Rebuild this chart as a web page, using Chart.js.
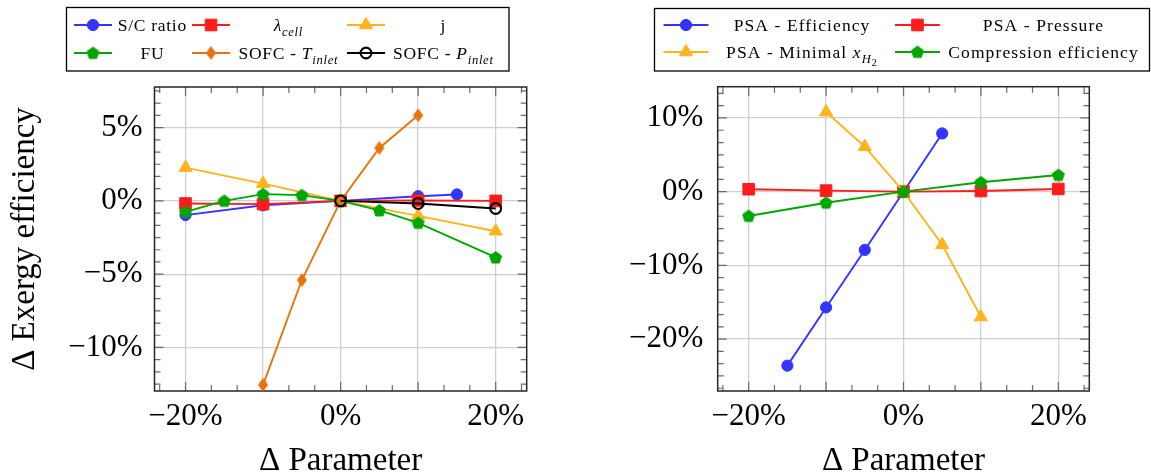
<!DOCTYPE html>
<html>
<head>
<meta charset="utf-8">
<script src="https://cdn.jsdelivr.net/npm/chart.js@4.4.1/dist/chart.umd.min.js"></script>
<style>
  html, body { margin: 0; padding: 0; background: #fff; width: 1151px; height: 476px; overflow: hidden; }
  #wrap { position: relative; width: 1151px; height: 476px; }
  #wrap canvas { position: absolute; top: 0; }
</style>
</head>
<body>
<div id="wrap">
  <canvas id="left" width="575" height="476" style="left:0px;width:575px;height:476px"></canvas>
  <canvas id="right" width="576" height="476" style="left:575px;width:576px;height:476px"></canvas>
</div>
<script>
// ---------- Left panel: SOFC parameters (x: Δ parameter in %, y: Δ exergy efficiency in %) ----------
const SC_X = [-20, -10, 0, 10, 15];
const SC_Y = [-0.97, -0.3, 0, 0.32, 0.44];
const LAMBDA_X = [-20, -10, 0, 10, 20];
const LAMBDA_Y = [-0.18, -0.22, 0, 0.03, 0];
const J_X = [-20, -10, 0, 10, 20];
const J_Y = [2.27, 1.18, 0, -1.02, -2.07];
const FU_X = [-20, -15, -10, -5, 0, 5, 10, 20];
const FU_Y = [-0.75, 0, 0.46, 0.39, 0, -0.65, -1.5, -3.86];
const TIN_X = [-10, -5, 0, 5, 10];
const TIN_Y = [-12.55, -5.4, 0, 3.61, 5.84];
const PIN_X = [0, 10, 20];
const PIN_Y = [0, -0.18, -0.52];

// ---------- Right panel: PSA and compression parameters ----------
const PSAEFF_X = [-15, -10, -5, 0, 5];
const PSAEFF_Y = [-23.6, -15.7, -7.9, 0, 7.9];
const PSAP_X = [-20, -10, 0, 10, 20];
const PSAP_Y = [0.33, 0.14, 0, 0.09, 0.37];
const XH2_X = [-10, -5, 0, 5, 10];
const XH2_Y = [10.8, 6.1, 0, -7.2, -17.0];
const COMP_X = [-20, -10, 0, 10, 20];
const COMP_Y = [-3.3, -1.5, 0, 1.27, 2.26];

// ---------- Ticks ----------
const X_TICKS = [-20, -10, 0, 10, 20];
const X_TICK_LABELS = ['\u221220%', '', '0%', '', '20%'];
const LEFT_Y_TICKS = [-10, -5, 0, 5];
const LEFT_Y_TICK_LABELS = ['\u221210%', '\u22125%', '0%', '5%'];
const RIGHT_Y_TICKS = [-20, -10, 0, 10];
const RIGHT_Y_TICK_LABELS = ['\u221220%', '\u221210%', '0%', '10%'];

// ---------- Series names (runs of text; it = italic, sub = subscript level) ----------
const LEFT_NAMES = [
  [{ t: 'S/C ratio' }],
  [{ t: 'λ', it: 1 }, { t: 'cell', it: 1, sub: 1 }],
  [{ t: 'j' }],
  [{ t: 'FU' }],
  [{ t: 'SOFC - ' }, { t: 'T', it: 1 }, { t: 'inlet', it: 1, sub: 1 }],
  [{ t: 'SOFC - ' }, { t: 'P', it: 1 }, { t: 'inlet', it: 1, sub: 1 }]
];
const RIGHT_NAMES = [
  [{ t: 'PSA - Efficiency' }],
  [{ t: 'PSA - Pressure' }],
  [{ t: 'PSA - Minimal ' }, { t: 'x', it: 1 }, { t: 'H', it: 1, sub: 1 }, { t: '2', sub: 2 }],
  [{ t: 'Compression efficiency' }]
];

const COL = { blue: '#3434ff', red: '#ff1c1c', yellow: '#ffb41e', green: '#00a600', orange: '#e6730b', black: '#000000' };
const SERIF = '"Liberation Serif", "DejaVu Serif", serif';

// Custom marker shapes (pentagon, tall diamond) rendered once into small canvases
function shapeCanvas(w, h, color, pts) {
  const c = document.createElement('canvas');
  c.width = w; c.height = h;
  const g = c.getContext('2d');
  g.beginPath();
  pts.forEach(([px, py], i) => i ? g.lineTo(px, py) : g.moveTo(px, py));
  g.closePath();
  g.fillStyle = color; g.strokeStyle = color; g.lineWidth = 1;
  g.fill(); g.stroke();
  return c;
}
function pentagon(color, r) {
  const s = Math.ceil(2 * r + 4), c0 = s / 2, pts = [];
  for (let i = 0; i < 5; i++) {
    const t = -Math.PI / 2 + i * 2 * Math.PI / 5;
    pts.push([c0 + r * Math.cos(t), c0 + 0.4 + r * Math.sin(t)]);
  }
  return shapeCanvas(s, s, color, pts);
}
function diamond(color, hw, hh) {
  const w = Math.ceil(2 * hw + 4), h = Math.ceil(2 * hh + 4), cx = w / 2, cy = h / 2;
  return shapeCanvas(w, h, color, [[cx, cy - hh], [cx + hw, cy], [cx, cy + hh], [cx - hw, cy]]);
}

const MARK = {
  circle:   c => ({ pointStyle: 'circle', pointRadius: 5.6, pointBorderWidth: 1, pointBackgroundColor: c }),
  square:   c => ({ pointStyle: 'rect', pointRadius: 8.2, pointBorderWidth: 1, pointBackgroundColor: c }),
  triangle: c => ({ pointStyle: 'triangle', pointRadius: 7.6, pointBorderWidth: 1, pointBackgroundColor: c }),
  pentagon: c => ({ pointStyle: pentagon(c, 6.3), pointRadius: 6 }),
  diamond:  c => ({ pointStyle: diamond(c, 4.6, 6.3), pointRadius: 6 }),
  ocircle:  c => ({ pointStyle: 'circle', pointRadius: 5.4, pointBorderWidth: 2.1, pointBackgroundColor: 'rgba(0,0,0,0)' })
};

function series(xs, ys, color, mark, idx) {
  return Object.assign({
    data: xs.map((x, i) => ({ x: x, y: ys[i] })),
    borderColor: color,
    pointBorderColor: color,
    borderWidth: 1.9,
    tension: 0,
    fill: false,
    order: -idx
  }, MARK[mark](color));
}

// Frame with inward major/minor ticks on all four sides
const axisFrame = {
  id: 'axisFrame',
  beforeDatasetsDraw(chart, _args, o) {
    const { ctx, chartArea: a } = chart;
    const xs = chart.scales.x, ys = chart.scales.y;
    ctx.save();
    ctx.strokeStyle = '#6a6a6a';
    ctx.lineWidth = 1.2;
    ctx.beginPath();
    const kx0 = Math.ceil(xs.min / o.xStep - 1e-9), kx1 = Math.floor(xs.max / o.xStep + 1e-9);
    for (let k = kx0; k <= kx1; k++) {
      const p = xs.getPixelForValue(k * o.xStep);
      const len = (k % o.xMajor === 0) ? 9 : 6;
      ctx.moveTo(p, a.bottom); ctx.lineTo(p, a.bottom - len);
      ctx.moveTo(p, a.top); ctx.lineTo(p, a.top + len);
    }
    const ky0 = Math.ceil(ys.min / o.yStep - 1e-9), ky1 = Math.floor(ys.max / o.yStep + 1e-9);
    for (let k = ky0; k <= ky1; k++) {
      const p = ys.getPixelForValue(k * o.yStep);
      const len = (k % o.yMajor === 0) ? 9 : 6;
      ctx.moveTo(a.left, p); ctx.lineTo(a.left + len, p);
      ctx.moveTo(a.right, p); ctx.lineTo(a.right - len, p);
    }
    ctx.stroke();
    ctx.strokeStyle = '#262626';
    ctx.lineWidth = 1.5;
    ctx.strokeRect(a.left, a.top, a.right - a.left, a.bottom - a.top);
    ctx.restore();
  }
};

// Rich text run drawing (italic / subscripts), centred on (cx, cy)
function drawRich(ctx, runs, cx, cy, size, spacing) {
  const parts = runs.map(r => {
    const lvl = r.sub || 0;
    const fs = lvl === 0 ? size : (lvl === 1 ? size * 0.72 : size * 0.58);
    const font = (r.it ? 'italic ' : '') + fs.toFixed(2) + 'px ' + SERIF;
    ctx.font = font;
    ctx.letterSpacing = spacing + 'px';
    const w = ctx.measureText(r.t).width;
    const dy = lvl === 0 ? 0 : (lvl === 1 ? 0.3 * size : 0.48 * size);
    return { font, w, dy, t: r.t };
  });
  const total = parts.reduce((s, p) => s + p.w, 0) - spacing;
  let x = cx - total / 2;
  const base = cy + 0.33 * size;
  ctx.textAlign = 'left';
  ctx.textBaseline = 'alphabetic';
  parts.forEach(p => {
    ctx.font = p.font;
    ctx.letterSpacing = spacing + 'px';
    ctx.fillText(p.t, x, base + p.dy);
    x += p.w;
  });
  ctx.letterSpacing = '0px';
}

// Boxed legend: rows x columns of (line + marker, centred name)
const boxLegend = {
  id: 'boxLegend',
  afterDraw(chart, _args, o) {
    const ctx = chart.ctx;
    const [bx, by, bw, bh] = o.box;
    ctx.save();
    ctx.fillStyle = '#fff';
    ctx.fillRect(bx, by, bw, bh);
    ctx.strokeStyle = '#000';
    ctx.lineWidth = 1.3;
    ctx.strokeRect(bx, by, bw, bh);
    chart.data.datasets.forEach((ds, i) => {
      const col = i % o.cols, row = Math.floor(i / o.cols);
      const cy = o.rows[row], mc = o.markC[col];
      ctx.strokeStyle = ds.borderColor;
      ctx.lineWidth = ds.borderWidth;
      ctx.beginPath();
      ctx.moveTo(mc - o.markW / 2, cy); ctx.lineTo(mc + o.markW / 2, cy);
      ctx.stroke();
      ctx.fillStyle = ds.pointBackgroundColor || ds.borderColor;
      ctx.strokeStyle = ds.pointBorderColor;
      ctx.lineWidth = ds.pointBorderWidth || 1;
      Chart.helpers.drawPoint(ctx, { pointStyle: ds.pointStyle, radius: ds.pointRadius, borderWidth: ds.pointBorderWidth || 0, rotation: 0 }, mc, cy);
      ctx.fillStyle = '#000';
      drawRich(ctx, o.names[i], o.textC[col], cy, o.size, o.spacing);
    });
    ctx.restore();
  }
};

const TICK_FONT = { family: SERIF, size: 31 };
const TITLE_FONT = { family: SERIF, size: 33, lineHeight: 1 };

function makeChart(id, datasets, cfg) {
  return new Chart(document.getElementById(id), {
    type: 'line',
    data: { datasets: datasets },
    plugins: [axisFrame, boxLegend],
    options: {
      responsive: false,
      devicePixelRatio: 1,
      animation: false,
      events: [],
      layout: { padding: { top: cfg.top, right: cfg.right, left: 0, bottom: 0 } },
      plugins: {
        legend: { display: false },
        tooltip: { enabled: false },
        axisFrame: { xStep: 10 / 3, xMajor: 3, yStep: cfg.yStep, yMajor: 6 },
        boxLegend: cfg.legend
      },
      scales: {
        x: {
          type: 'linear',
          min: -24, max: 24,
          afterBuildTicks: s => { s.ticks = X_TICKS.map(v => ({ value: v })); },
          afterFit: s => { s.height = 476 - cfg.bottom; },
          ticks: {
            autoSkip: false, maxRotation: 0, padding: 7, color: '#000', font: TICK_FONT,
            callback: (v, i) => X_TICK_LABELS[i]
          },
          grid: { color: '#cfcfcf', lineWidth: 1.3, drawTicks: false },
          border: { display: false },
          title: { display: true, text: 'Δ Parameter', color: '#000', font: TITLE_FONT, padding: { top: 0, bottom: -1.5 } }
        },
        y: {
          type: 'linear',
          min: cfg.yMin, max: cfg.yMax,
          afterBuildTicks: s => { s.ticks = cfg.yTicks.map(v => ({ value: v })); },
          afterFit: s => { s.width = cfg.left; },
          ticks: {
            autoSkip: false, padding: cfg.yPad, color: '#000', font: TICK_FONT,
            callback: (v, i) => cfg.yLabels[i]
          },
          grid: { color: '#cfcfcf', lineWidth: 1.3, drawTicks: false },
          border: { display: false },
          title: cfg.yTitle
            ? { display: true, text: cfg.yTitle, color: '#000', font: TITLE_FONT, padding: { top: 8.5, bottom: 0 } }
            : { display: false }
        }
      }
    }
  });
}

const leftSets = [
  series(SC_X, SC_Y, COL.blue, 'circle', 0),
  series(LAMBDA_X, LAMBDA_Y, COL.red, 'square', 1),
  series(J_X, J_Y, COL.yellow, 'triangle', 2),
  series(FU_X, FU_Y, COL.green, 'pentagon', 3),
  series(TIN_X, TIN_Y, COL.orange, 'diamond', 4),
  series(PIN_X, PIN_Y, COL.black, 'ocircle', 5)
];
const rightSets = [
  series(PSAEFF_X, PSAEFF_Y, COL.blue, 'circle', 0),
  series(PSAP_X, PSAP_Y, COL.red, 'square', 1),
  series(XH2_X, XH2_Y, COL.yellow, 'triangle', 2),
  series(COMP_X, COMP_Y, COL.green, 'pentagon', 3)
];

makeChart('left', leftSets, {
  top: 87, right: 575 - 526.7, bottom: 391, left: 154.5,
  yMin: -12.97, yMax: 7.77, yStep: 5 / 6, yTicks: LEFT_Y_TICKS, yLabels: LEFT_Y_TICK_LABELS,
  yPad: 12, yTitle: 'Δ Exergy efficiency',
  legend: { box: [66.5, 7.5, 442.5, 63.5], cols: 3, rows: [25, 53], markW: 38,
            markC: [93, 211, 366], textC: [152, 288, 443], size: 17.5, spacing: 0.7, names: LEFT_NAMES }
});
// right canvas starts at page x = 575, so legend coordinates are shifted by that amount
makeChart('right', rightSets, {
  top: 86.7, right: 576 - 514.3, bottom: 391, left: 142.7,
  yMin: -27.04, yMax: 14.24, yStep: 10 / 6, yTicks: RIGHT_Y_TICKS, yLabels: RIGHT_Y_TICK_LABELS,
  yPad: 14.4, yTitle: null,
  legend: { box: [654.5 - 575, 8.5, 495, 62.5], cols: 2, rows: [25, 52], markW: 45,
            markC: [686 - 575, 917.5 - 575], textC: [801.5 - 575, 1043 - 575], size: 17.5, spacing: 1.1, names: RIGHT_NAMES }
});
</script>
</body>
</html>
